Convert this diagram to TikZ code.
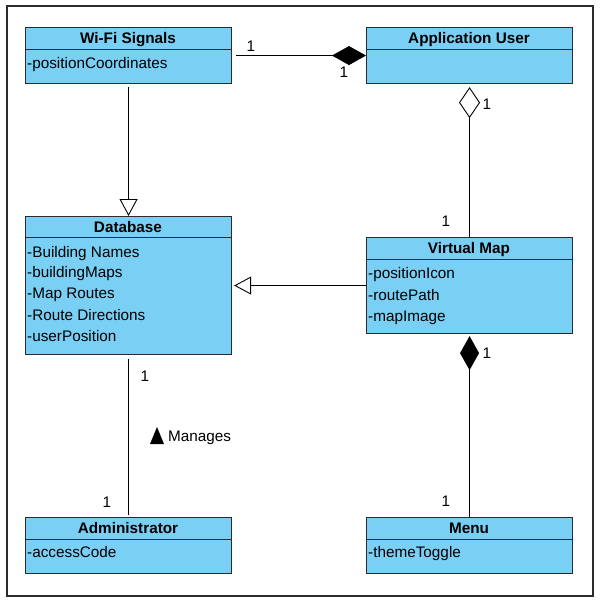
\documentclass[tikz,border=0pt]{standalone}
\usepackage{fontspec}
\setmainfont{Liberation Sans}
\usetikzlibrary{arrows.meta}
\definecolor{classfill}{HTML}{7ACFF4}
\definecolor{edge}{HTML}{2B2B2B}
\tikzset{
  classbox/.style={draw=edge, line width=1.1pt, fill=classfill, rectangle, inner sep=0pt, anchor=north west, minimum width=206pt},
  sepline/.style={draw=edge, line width=1pt},
  hdr/.style={font=\fontsize{15.3}{18}\selectfont\bfseries, anchor=base, inner sep=0pt},
  attr/.style={font=\fontsize{15.3}{18}\selectfont, anchor=base west, inner sep=0pt},
  mult/.style={font=\fontsize{15.3}{18}\selectfont, inner sep=0pt},
  conn/.style={draw=black, line width=0.9pt},
  gentip/.tip={Triangle[open, fill=white, length=17pt, width=18pt]},
  compotip/.tip={Diamond[fill=black, length=34pt, width=19pt]},
  aggrtip/.tip={Diamond[open, fill=white, length=31pt, width=21pt]},
}
\begin{document}
\begin{tikzpicture}[x=1pt, y=-1pt]
\useasboundingbox (0,0) rectangle (603,606);
\draw[draw=edge, line width=1.6pt] (7,6) rectangle (593,596);

% classes
\node[classbox, minimum height=56pt] (wifi) at (25,27) {};
\draw[sepline] (25,49) -- (231,49);
\node[hdr] (wifih) at (128,43.5) {Wi-Fi Signals};
\node[attr] (wifia1) at (27,68) {-positionCoordinates};

\node[classbox, minimum height=56pt] (appuser) at (366,27) {};
\draw[sepline] (366,49) -- (572,49);
\node[hdr] (appuserh) at (469,43.5) {Application User};

\node[classbox, minimum height=138pt] (db) at (25,216) {};
\draw[sepline] (25,237) -- (231,237);
\node[hdr] (dbh) at (128,232) {Database};
\node[attr] (dba1) at (27,257) {-Building Names};
\node[attr] (dba2) at (27,277.5) {-buildingMaps};
\node[attr] (dba3) at (27,298.5) {-Map Routes};
\node[attr] (dba4) at (27,320) {-Route Directions};
\node[attr] (dba5) at (27,341) {-userPosition};

\node[classbox, minimum height=96pt] (vm) at (366,237) {};
\draw[sepline] (366,259) -- (572,259);
\node[hdr] (vmh) at (469,253.5) {Virtual Map};
\node[attr] (vma1) at (368,278) {-positionIcon};
\node[attr] (vma2) at (368,300) {-routePath};
\node[attr] (vma3) at (368,321) {-mapImage};

\node[classbox, minimum height=56pt] (admin) at (25,517) {};
\draw[sepline] (25,539) -- (231,539);
\node[hdr] (adminh) at (128,533.5) {Administrator};
\node[attr] (admina1) at (27,557) {-accessCode};

\node[classbox, minimum height=56pt] (menu) at (366,517) {};
\draw[sepline] (366,539) -- (572,539);
\node[hdr] (menuh) at (469,533.5) {Menu};
\node[attr] (menua1) at (368,557) {-themeToggle};

% connectors
\draw[conn, -compotip, shorten <=4pt] (wifi) -- (appuser);
\draw[conn, aggrtip-, shorten <=3pt] (appuser) -- (vm);
\draw[conn, -gentip, shorten <=3pt] (wifi) -- (db);
\draw[conn, -gentip, shorten >=2pt] (vm) -- (db);
\draw[conn, shorten <=4pt, shorten >=2pt] (db) -- (admin);
\draw[conn, compotip-, shorten <=2pt] (vm) -- (menu);

% multiplicities
\node[mult] (m1) at (251,46) {1};
\node[mult] (m2) at (344,72) {1};
\node[mult] (m3) at (487,104) {1};
\node[mult] (m4) at (446,221) {1};
\node[mult] (m5) at (487,353) {1};
\node[mult] (m6) at (446,501) {1};
\node[mult] (m7) at (145,376) {1};
\node[mult] (m8) at (107,502) {1};

% association name
\fill[black] (150,444) -- (164,444) -- (157,427) -- cycle;
\node[mult, anchor=west] (manages) at (168,438) {Manages};
\end{tikzpicture}
\end{document}
